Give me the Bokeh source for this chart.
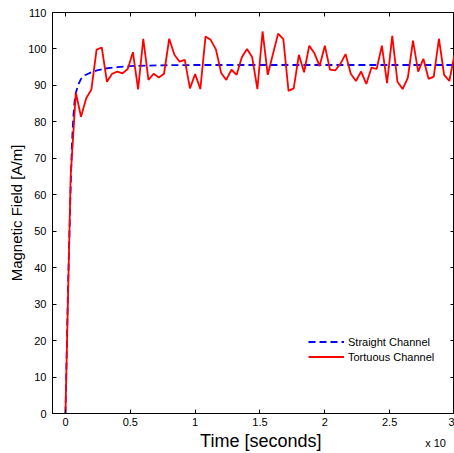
from bokeh.plotting import figure
from bokeh.models import (Range1d, LinearAxis, FixedTicker, Legend, LegendItem)
from bokeh.core.properties import value
from bokeh.embed import file_html
from bokeh.resources import INLINE

# ---- data ----
t_straight = [0, 0.02, 0.04, 0.05, 0.06, 0.07, 0.08, 0.10, 0.12, 0.15, 0.20, 0.25,
              0.30, 0.40, 0.50, 0.70, 1.00, 1.50, 2.00, 2.50, 3.00]
h_straight = [0, 35, 62, 74, 81, 85.5, 88, 90.3, 91.8, 92.8, 93.6, 94.2,
              94.6, 95.0, 95.3, 95.5, 95.6, 95.6, 95.6, 95.6, 95.6]

t_tortuous = [0.00, 0.04, 0.08, 0.12, 0.16, 0.20, 0.24, 0.28, 0.32, 0.36,
              0.40, 0.44, 0.48, 0.52, 0.56, 0.60, 0.64, 0.68, 0.72, 0.76,
              0.80, 0.84, 0.88, 0.92, 0.96, 1.00, 1.04, 1.08, 1.12, 1.16,
              1.20, 1.24, 1.28, 1.32, 1.36, 1.40, 1.44, 1.48, 1.52, 1.56,
              1.60, 1.64, 1.68, 1.72, 1.76, 1.80, 1.84, 1.88, 1.92, 1.96,
              2.00, 2.04, 2.08, 2.12, 2.16, 2.20, 2.24, 2.28, 2.32, 2.36,
              2.40, 2.44, 2.48, 2.52, 2.56, 2.60, 2.64, 2.68, 2.72, 2.76,
              2.80, 2.84, 2.88, 2.92, 2.96, 3.00]
h_tortuous = [0, 65, 88, 81.4, 86.5, 88.9, 99.8, 100.4, 91.0, 93.2,
              93.8, 93.3, 94.5, 99.1, 88.9, 102.8, 91.5, 93.2, 92.2, 93.2,
              102.8, 98.4, 96.5, 97.0, 89.2, 93.1, 89.0, 103.4, 102.5, 99.9,
              93.5, 91.5, 94.3, 92.9, 97.7, 100.0, 97.7, 89.0, 104.8, 92.9,
              98.6, 104.2, 102.7, 88.5, 89.2, 98.4, 93.6, 100.9, 98.8, 95.3,
              100.9, 94.3, 94.1, 95.9, 98.6, 93.2, 91.2, 93.8, 90.4, 94.9,
              94.5, 100.9, 90.6, 103.6, 91.0, 89.0, 92.1, 102.3, 93.8, 97.3,
              91.8, 92.4, 102.8, 92.9, 91.2, 98.4]

x_ticks = [0, 0.5, 1, 1.5, 2, 2.5, 3]
x_tick_labels = {0: "0", 0.5: "0.5", 1: "1", 1.5: "1.5", 2: "2", 2.5: "2.5", 3: "3"}
y_ticks = [0, 10, 20, 30, 40, 50, 60, 70, 80, 90, 100, 110]
x_title = "Time [seconds]"
x_exponent = "x 10"

FONT = "Liberation Sans"

p = figure(width=454, height=453, output_backend="svg", toolbar_location=None,
           x_range=Range1d(-0.1, 3.0), y_range=Range1d(0, 110),
           min_border_left=52, min_border_right=0, min_border_top=12,
           min_border_bottom=40, background_fill_color="white",
           border_fill_color="white")
p.grid.visible = False
p.outline_line_color = "black"
p.outline_line_width = 1

def style_axis(ax, ticks, show_labels=True):
    ax.ticker = FixedTicker(ticks=ticks)
    ax.major_tick_in = 4
    ax.major_tick_out = 0
    ax.minor_tick_line_color = None
    ax.axis_line_color = "black"
    ax.major_tick_line_color = "black"
    ax.major_label_text_font = FONT
    if show_labels:
        ax.major_label_text_color = "black"
        ax.major_label_text_font_size = "11px"
    else:
        ax.major_label_text_color = None
        ax.major_label_text_font_size = "1px"
        ax.major_label_standoff = 0

xa = p.xaxis[0]
style_axis(xa, x_ticks)
xa.major_label_overrides = x_tick_labels
xa.major_label_standoff = 4

ya = p.yaxis[0]
style_axis(ya, y_ticks)
ya.major_label_standoff = 6
ya.axis_label = "Magnetic Field [A/m]"
ya.axis_label_text_font = FONT
ya.axis_label_text_font_size = "15px"
ya.axis_label_text_font_style = "normal"
ya.axis_label_text_color = "black"
ya.axis_label_standoff = 0

top = LinearAxis()
style_axis(top, x_ticks, show_labels=False)
p.add_layout(top, "above")
right = LinearAxis()
style_axis(right, y_ticks, show_labels=False)
p.add_layout(right, "right")

r_straight = p.line(t_straight, h_straight, line_color="#0000ff", line_width=1.8,
                    line_dash="7 4")
r_tort = p.line(t_tortuous, h_tortuous, line_color="#ff0000", line_width=1.8)

legend = Legend(items=[LegendItem(label="Straight Channel", renderers=[r_straight]),
                       LegendItem(label="Tortuous Channel", renderers=[r_tort])],
                location=(256, 49), border_line_color=None, background_fill_alpha=0,
                padding=0, margin=0, spacing=0, label_height=15, glyph_height=15,
                glyph_width=36, label_standoff=4, label_text_font=FONT,
                label_text_font_size="11px", label_text_color="black")
p.add_layout(legend, "center")

# axis title and exponent, drawn unclipped below the frame
p.text(x=[1.506], y=[-7.6], text=[x_title], text_align="center",
       text_baseline="middle", text_font=value(FONT), text_font_size=value("18px"),
       text_color="black", level="overlay")
p.text(x=[2.774], y=[-8.1], text=[x_exponent], text_align="left",
       text_baseline="middle", text_font=value(FONT), text_font_size=value("11px"),
       text_color="black", level="overlay")

open("out.html", "w").write(file_html(p, INLINE))
